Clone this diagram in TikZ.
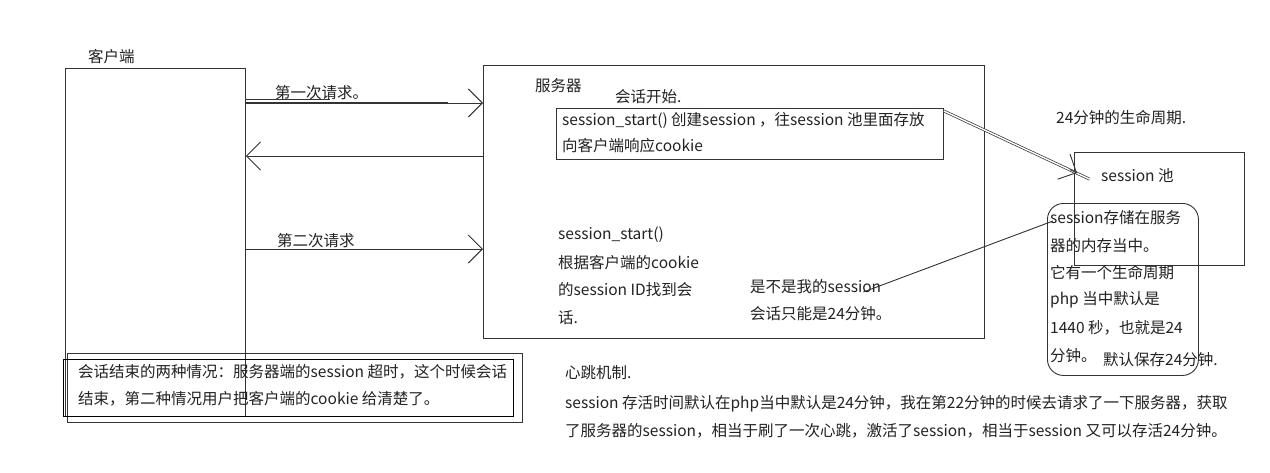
\documentclass[tikz,border=0pt]{standalone}
\usepackage{fontspec}
\setmainfont{Noto Sans CJK SC}
\usetikzlibrary{arrows.meta,calc}
\definecolor{ink}{HTML}{222222}
\definecolor{ln}{HTML}{333333}
\tikzset{
  txt/.style={anchor=west,inner sep=0pt,text=ink,font=\fontsize{15.5}{18}\selectfont},
  box/.style={draw=ln,line width=0.9pt,inner sep=0pt,anchor=north west},
  conn/.style={draw=ln,line width=0.9pt},
  tip/.style={-{Straight Barb[length=14pt,width=28pt,line width=0.9pt]}},
}
\begin{document}
\begin{tikzpicture}[x=1pt,y=-1pt]
\useasboundingbox[fill=white] (0,0) rectangle (1270,472);
% boxes
\node[box,minimum width=180pt,minimum height=348pt] (client) at (65,68) {};
\node[box,minimum width=501pt,minimum height=273pt] (server) at (483,65) {};
\node[box,minimum width=387pt,minimum height=51pt] (inner) at (556,108) {};
\node[box,minimum width=170pt,minimum height=113pt] (pool) at (1074,152) {};
\node[box,rounded corners=16pt,minimum width=151pt,minimum height=172pt] (rb) at (1047,203) {};
\node[box,minimum width=455pt,minimum height=69pt] (note1) at (67,353) {};
\node[box,line width=1.3pt,draw=black,minimum width=450pt,minimum height=57pt] (note2) at (63,359) {};
% labels
\node[txt] (tcl) at (88,57) {客户端};
\node[txt] (treq1) at (275,93) {第一次请求。};
\node[txt] (treq2) at (277,241) {第二次请求};
\node[txt] (tsv) at (535,86) {服务器};
\node[txt] (tstart) at (615,97) {会话开始.};
\node[txt] (i1) at (562,120) {session\_start() 创建session ，往session 池里面存放};
\node[txt] (i2) at (562,146) {向客户端响应cookie};
\node[txt] (s1) at (558,235) {session\_start()};
\node[txt] (s2) at (558,263) {根据客户端的cookie};
\node[txt] (s3) at (558,290) {的session ID找到会};
\node[txt] (s4) at (558,318) {话.};
\node[txt] (q1) at (750,287) {是不是我的session};
\node[txt] (q2) at (750,314) {会话只能是24分钟。};
\node[txt] (life) at (1056,118) {24分钟的生命周期.};
\node[txt] (tpool) at (1101,176) {session 池};
\node[txt] (r1) at (1050,218) {session存储在服务};
\node[txt] (r2) at (1050,246) {器的内存当中。};
\node[txt] (r3) at (1050,273) {它有一个生命周期};
\node[txt] (r4) at (1050,300) {php 当中默认是};
\node[txt] (r5) at (1050,328) {1440 秒，也就是24};
\node[txt] (r6) at (1050,356) {分钟。};
\node[txt] (r7) at (1103,360) {默认保存24分钟.};
\node[txt] (n1) at (78,372) {会话结束的两种情况：服务器端的session 超时，这个时候会话};
\node[txt] (n2) at (78,399) {结束，第二种情况用户把客户端的cookie 给清楚了。};
\node[txt] (hb) at (565,373) {心跳机制.};
\node[txt] (b1) at (565,404) {session 存活时间默认在php当中默认是24分钟，我在第22分钟的时候去请求了一下服务器，获取};
\node[txt] (b2) at (565,431) {了服务器的session，相当于刷了一次心跳，激活了session，相当于session 又可以存活24分钟。};
% connectors
\draw[conn,line width=2.4pt] (client.east |- 0,103) -- (448,103);
\draw[conn] (client.east |- 0,99) -- (330,99);
\draw[conn,tip] (client.east |- 0,103) -- (server.west |- 0,103);
\draw[conn,tip] (server.west |- 0,156) -- (client.east |- 0,156);
\draw[conn,tip] (client.east |- 0,249) -- (server.west |- 0,249);
\coordinate (pa) at (inner.north east);
\coordinate (pb) at (1077,173);
\draw[draw=ln,line width=0.7pt,double,double distance=1.4pt] ($(pa)+(0,3)$) -- ($(pb)!-14pt!(pa)$);
\draw[conn,tip] ($(pb)!8pt!(pa)$) -- (pb);
\coordinate (qa) at ($(q1.east)+(-18,5)$);
\coordinate (qb) at (1053,221);
\draw[conn] (qa) -- (qb);
\end{tikzpicture}
\end{document}
